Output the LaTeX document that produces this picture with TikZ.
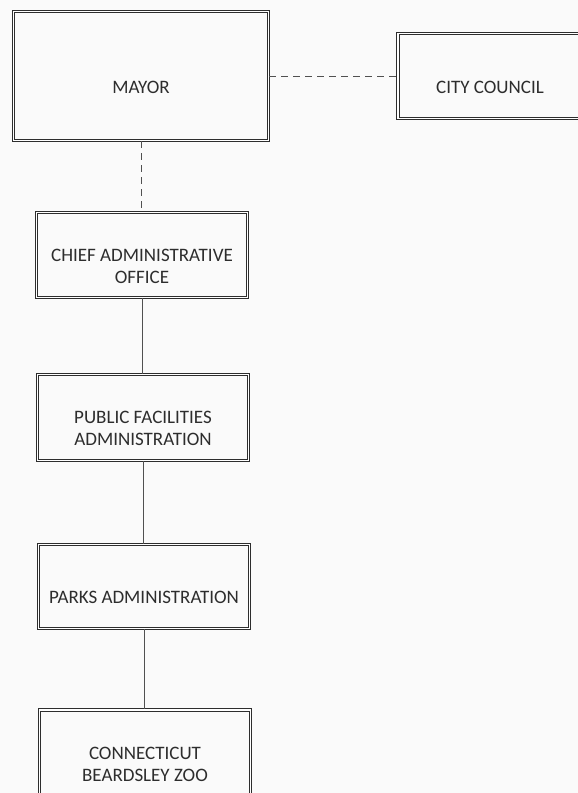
\documentclass[tikz,border=0pt]{standalone}
\usepackage{fontspec}
\setmainfont{Carlito}
\usetikzlibrary{positioning}
\definecolor{mydark}{RGB}{45,45,45}
\definecolor{myline}{RGB}{80,80,80}
\definecolor{mypaper}{RGB}{250,250,250}
\tikzset{
  box/.style={draw=mydark, double=white, double distance=1.4pt, line width=1.1pt, rectangle, minimum width=211pt, minimum height=85pt, inner sep=0pt},
  boxtext/.style={font=\fontsize{19}{22}\selectfont, text=mydark, align=center, yshift=-11pt},
  link/.style={draw=myline, line width=0.9pt},
  dlink/.style={link, dash pattern=on 7pt off 5pt}
}
\begin{document}
\begin{tikzpicture}[x=1pt, y=-1pt]
  \fill [mypaper] (0,0) rectangle (578,793);
  \clip (0,0) rectangle (578,793);

  \node [box, minimum width=255pt, minimum height=129pt, label={[boxtext]center:MAYOR}] (mayor) at (141,76) {};
  \node [box, minimum width=184pt, label={[boxtext]center:CITY COUNCIL}] (council) at (490,76) {};
  \node [box, label={[boxtext]center:{CHIEF ADMINISTRATIVE\\OFFICE}}] (chief) at (142,255) {};
  \node [box, minimum height=86pt, label={[boxtext]center:{PUBLIC FACILITIES\\ADMINISTRATION}}] (public) at (143,417.5) {};
  \node [box, minimum height=84pt, label={[boxtext]center:PARKS ADMINISTRATION}] (parks) at (144,586.5) {};
  \node [box, minimum height=86pt, label={[boxtext]center:{CONNECTICUT\\BEARDSLEY ZOO}}] (zoo) at (145,753) {};

  \draw [dlink] (mayor.east |- council.west) -- (council.west);
  \draw [dlink] (mayor.south) -- (mayor.south |- chief.north);
  \draw [link] (chief.south) -- (chief.south |- public.north);
  \draw [link] (public.south) -- (public.south |- parks.north);
  \draw [link] (parks.south) -- (parks.south |- zoo.north);
\end{tikzpicture}
\end{document}
